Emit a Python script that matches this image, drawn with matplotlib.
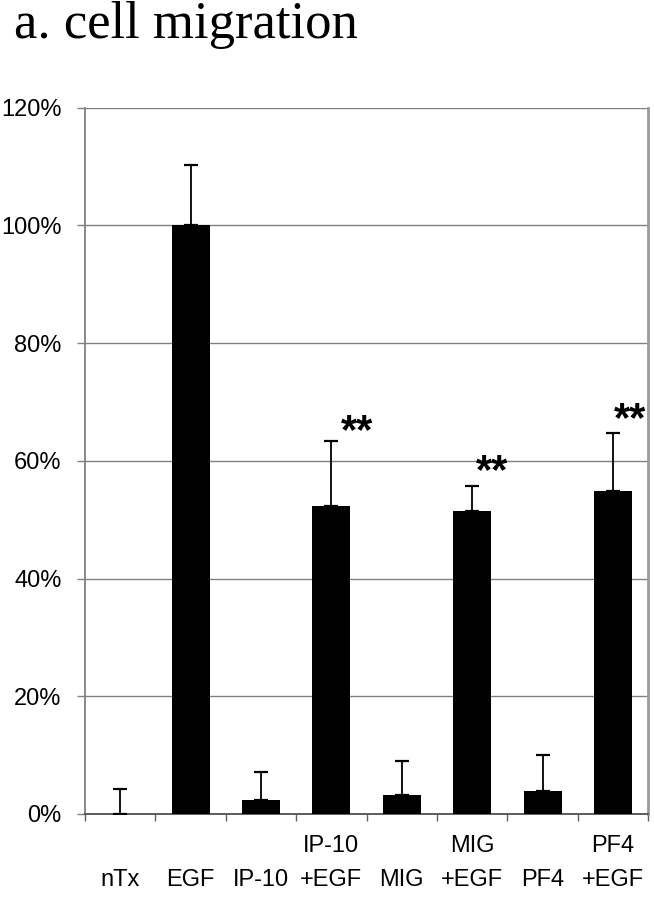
import matplotlib
matplotlib.use("Agg")
import matplotlib.pyplot as plt
import numpy as np

categories = ["\nnTx", "\nEGF", "\nIP-10", "IP-10\n+EGF", "\nMIG", "MIG\n+EGF", "\nPF4", "PF4\n+EGF"]
values = [0.0, 100.0, 2.4, 52.3, 3.2, 51.4, 3.9, 54.9]
err_up = [4.2, 10.2, 4.8, 11.0, 5.8, 4.4, 6.1, 9.8]
yticks = [0, 20, 40, 60, 80, 100, 120]
ytick_labels = ["0%", "20%", "40%", "60%", "80%", "100%", "120%"]
star_idx = [3, 5, 7]
star_y = [64.9, 58.1, 66.9]
star_dx = [0.37, 0.28, 0.24]

fig = plt.figure(figsize=(6.54, 9.0), dpi=100)
ax = fig.add_axes([0.130, 0.0956, 0.861, 0.7847])

x = np.arange(len(values))
ax.bar(x, values, width=0.54, color="black", zorder=3)
ax.errorbar(x, values, yerr=[np.zeros(len(values)), err_up], fmt="none",
            ecolor="black", elinewidth=1.3, capsize=5, capthick=1.6, zorder=4)

for i, yy, dx in zip(star_idx, star_y, star_dx):
    ax.text(i + dx, yy, "**", ha="center", va="center", fontsize=30,
            fontweight="bold", family=["Liberation Sans", "DejaVu Sans"], zorder=5)

ax.set_xlim(-0.5, len(values) - 0.5)
ax.set_ylim(0, 120)
ax.set_yticks(yticks)
ax.set_yticklabels(ytick_labels, fontsize=17, family=["Liberation Sans", "DejaVu Sans"])
ax.yaxis.grid(True, color="#808080", linewidth=1.0, zorder=0)
ax.set_axisbelow(True)

ax.set_xticks(np.arange(len(values) + 1) - 0.5, minor=False)
ax.set_xticklabels([])
ax.set_xticks(x, minor=True)
ax.set_xticklabels(categories, minor=True, fontsize=17, linespacing=1.72,
                   family=["Liberation Sans Narrow", "Liberation Sans", "DejaVu Sans"])
ax.tick_params(axis="x", which="minor", length=0, pad=15)
ax.tick_params(axis="x", which="major", length=5, width=1.0, color="#606060", direction="out")
ax.tick_params(axis="y", length=6, width=1.0, color="#808080", direction="out", pad=11)

ax.spines["top"].set_visible(False)
ax.spines["left"].set_color("#808080")
ax.spines["left"].set_linewidth(1.3)
ax.spines["right"].set_color("#999999")
ax.spines["right"].set_linewidth(2.0)
ax.spines["bottom"].set_color("#505050")
ax.spines["bottom"].set_linewidth(1.3)

fig.text(0.021, 0.958, "a. cell migration", fontsize=38,
         family=["Liberation Serif", "DejaVu Serif"], ha="left", va="baseline")

fig.savefig("out.png", dpi=100, facecolor="white")
